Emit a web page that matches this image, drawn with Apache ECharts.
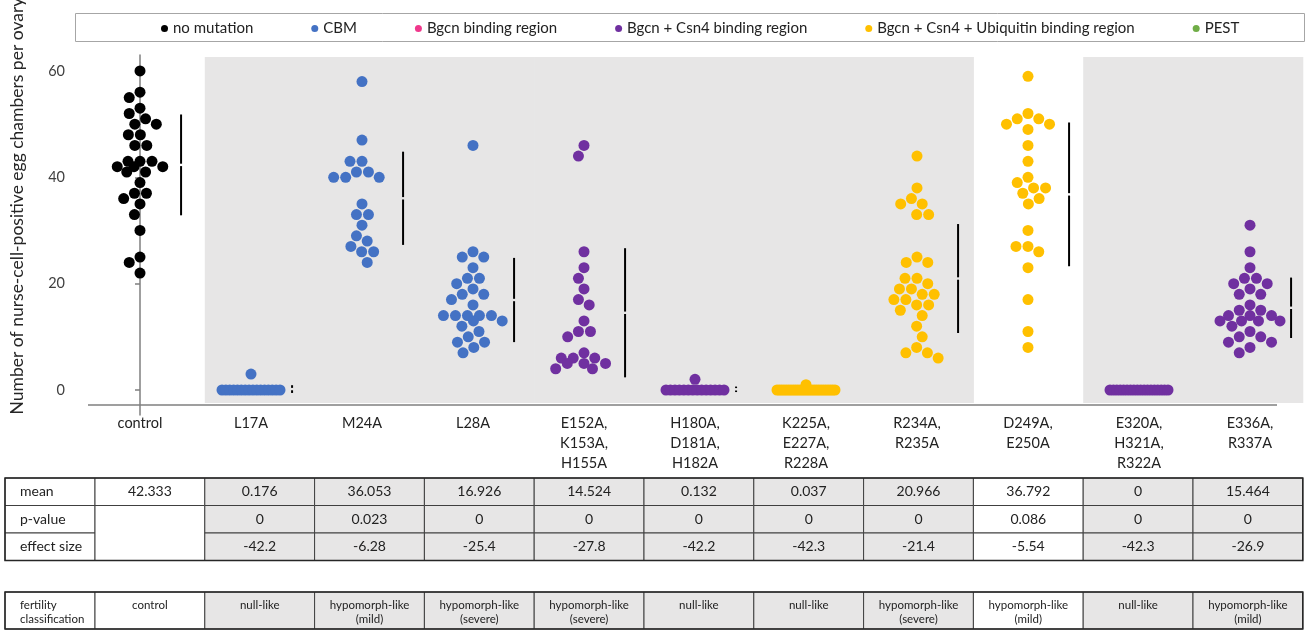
<!DOCTYPE html>
<html>
<head>
<meta charset="utf-8">
<title>Nurse-cell-positive egg chambers per ovary</title>
<script src="https://cdn.jsdelivr.net/npm/echarts@6/dist/echarts.min.js"></script>
<style>
  html, body { margin: 0; padding: 0; background: #fff; }
  #chart { width: 1312px; height: 630px; }
</style>
</head>
<body>
<div id="chart"></div>
<script>
// ---- data -------------------------------------------------------------
const categories = [
  'control', 'L17A', 'M24A', 'L28A',
  'E152A,\nK153A,\nH155A', 'H180A,\nD181A,\nH182A', 'K225A,\nE227A,\nR228A',
  'R234A,\nR235A', 'D249A,\nE250A', 'E320A,\nH321A,\nR322A', 'E336A,\nR337A'
];

const groupNames = [
  'no mutation', 'CBM', 'Bgcn binding region', 'Bgcn + Csn4 binding region',
  'Bgcn + Csn4 + Ubiquitin binding region', 'PEST'
];
const groupColors = ['#000000', '#4472C4', '#F0388C', '#7030A0', '#FFC000', '#70AD47'];
// which mutation region each category belongs to (index into groupNames)
const categoryGroup = [0, 1, 1, 1, 3, 3, 4, 4, 4, 3, 3];

// egg chambers per ovary, one value per ovary
const controlValues = [60, 56, 55, 53, 52, 51, 50, 50, 48, 48, 46, 46, 43, 43, 43, 42, 42, 42, 41, 41, 39, 37, 37, 36, 35, 33, 30, 25, 24, 22];
const l17aValues = [3, 0, 0, 0, 0, 0, 0, 0, 0, 0, 0, 0, 0, 0, 0, 0, 0];
const m24aValues = [58, 47, 43, 43, 41, 41, 40, 40, 40, 35, 33, 33, 31, 29, 28, 27, 26, 26, 24];
const l28aValues = [46, 26, 25, 25, 23, 21, 21, 20, 19, 18, 18, 17, 16, 14, 14, 14, 14, 14, 13, 13, 12, 11, 10, 9, 9, 8, 7];
const e152aValues = [46, 44, 26, 23, 21, 19, 17, 16, 13, 11, 11, 10, 7, 6, 6, 6, 5, 5, 5, 4, 4];
const h180aValues = [2, 0, 0, 0, 0, 0, 0, 0, 0, 0, 0, 0, 0, 0, 0];
const k225aValues = [1, 0, 0, 0, 0, 0, 0, 0, 0, 0, 0, 0, 0, 0, 0, 0, 0, 0, 0, 0, 0, 0, 0, 0, 0, 0, 0];
const r234aValues = [44, 38, 36, 35, 35, 33, 33, 25, 24, 24, 21, 21, 20, 19, 19, 18, 18, 17, 17, 16, 16, 15, 14, 12, 10, 8, 7, 7, 6];
const d249aValues = [59, 52, 51, 51, 50, 50, 49, 46, 43, 40, 39, 38, 38, 37, 36, 35, 30, 27, 27, 26, 23, 17, 11, 8];
const e320aValues = [0, 0, 0, 0, 0, 0, 0, 0, 0, 0, 0, 0, 0, 0, 0, 0, 0, 0];
const e336aValues = [31, 26, 23, 21, 21, 20, 20, 19, 18, 18, 16, 15, 15, 14, 14, 14, 13, 13, 13, 13, 12, 11, 10, 10, 9, 9, 8, 7];

const categoryValues = [
  controlValues, l17aValues, m24aValues, l28aValues, e152aValues, h180aValues,
  k225aValues, r234aValues, d249aValues, e320aValues, e336aValues
];

// summary table
const meanLabels = ['42.333', '0.176', '36.053', '16.926', '14.524', '0.132', '0.037', '20.966', '36.792', '0', '15.464'];
const pValueLabels = ['', '0', '0.023', '0', '0', '0', '0', '0', '0.086', '0', '0'];
const effectSizeLabels = ['', '-42.2', '-6.28', '-25.4', '-27.8', '-42.2', '-42.3', '-21.4', '-5.54', '-42.3', '-26.9'];
const fertilityLabels = [
  'control', 'null-like', 'hypomorph-like\n(mild)', 'hypomorph-like\n(severe)', 'hypomorph-like\n(severe)',
  'null-like', 'null-like', 'hypomorph-like\n(severe)', 'hypomorph-like\n(mild)', 'null-like', 'hypomorph-like\n(mild)'
];
const yTicks = [0, 20, 40, 60];

// ---- layout & style -----------------------------------------------------
const FONT = 'Lato';
const GRID = { left: 73, top: 55, width: 1234, height: 360 };
const X_MIN = -0.6036, X_MAX = 10.5135;
const Y_MIN = -4.7, Y_MAX = 63;
const MEAN_OFFSET = 0.37;      // mean/SD bar sits to the right of each swarm
const DOT = 11;                // dot diameter, px
const SWARM_GAPS = [12, 11, 10, 9, 8];  // packing distances, loosened when a row gets crowded
const SWARM_WIDTH = 30;        // preferred half-width of a swarm
const SWARM_CAP = 29;          // half-width for a pile of identical values
const SHADE = '#E7E6E6';
const LINE = '#404040';

// table columns (shared by the shaded bands above them)
const TABLE_LEFT = 5, LABEL_COL_W = 90, COL_W = 109.8;
const colX = i => TABLE_LEFT + LABEL_COL_W + i * COL_W;

const meanValues = meanLabels.map(Number);
const isSignificant = pValueLabels.map(p => p !== '' && Number(p) < 0.05);

function sampleSD(vals) {
  const n = vals.length;
  if (n < 2) return 0;
  const m = vals.reduce((a, b) => a + b, 0) / n;
  return Math.sqrt(vals.reduce((a, v) => a + (v - m) * (v - m), 0) / (n - 1));
}
const sdValues = categoryValues.map(sampleSD);

// ---- beeswarm packing (px offsets from the category centre) -----------
function nearestFree(placed, y, gap) {
  const blocks = [];
  placed.forEach(p => {
    const dy = Math.abs(p.y - y);
    if (dy < gap) {
      const w = Math.sqrt(gap * gap - dy * dy);
      blocks.push([p.x - w, p.x + w]);
    }
  });
  const cands = [0];
  blocks.forEach(b => cands.push(b[0], b[1]));
  cands.sort((a, b) => Math.abs(a) - Math.abs(b) || a - b);
  return cands.find(c => blocks.every(b => c <= b[0] + 1e-6 || c >= b[1] - 1e-6));
}

function swarmOffsets(vals, pxPerY) {
  const offsets = new Array(vals.length).fill(0);
  const counts = {};
  vals.forEach(v => { counts[v] = (counts[v] || 0) + 1; });
  // large piles of a single value are spread evenly across a fixed width
  const piled = new Set(Object.keys(counts).map(Number)
    .filter(v => counts[v] * SWARM_GAPS[0] > 2 * SWARM_CAP + SWARM_GAPS[0]));
  piled.forEach(v => {
    const ids = vals.map((x, i) => i).filter(i => vals[i] === v);
    ids.forEach((id, k) => { offsets[id] = -SWARM_CAP + 2 * SWARM_CAP * k / (ids.length - 1); });
  });
  const order = vals.map((x, i) => i).filter(i => !piled.has(vals[i]))
    .sort((a, b) => vals[b] - vals[a]);
  const placed = [];
  order.forEach(i => {
    const y = vals[i] * pxPerY;
    let x = 0;
    for (const gap of SWARM_GAPS) {
      x = nearestFree(placed, y, gap);
      if (Math.abs(x) <= SWARM_WIDTH) break;
    }
    offsets[i] = x;
    placed.push({ x, y });
  });
  return offsets;
}

// ---- static graphics: legend frame, axis title, x baseline, bands, table
function buildGraphics() {
  const g = [];
  // shaded columns behind significantly different genotypes
  categories.forEach((c, i) => {
    if (isSignificant[i]) {
      g.push({ type: 'rect', z: -10, shape: { x: colX(i), y: 57, width: COL_W + 0.5, height: 346 },
        style: { fill: SHADE } });
    }
  });
  // legend frame
  g.push({ type: 'rect', shape: { x: 75.5, y: 13.5, width: 1229, height: 28 },
    style: { fill: 'none', stroke: '#A6A6A6', lineWidth: 1 } });
  // y-axis title
  g.push({ type: 'text', x: 17, y: 206, rotation: Math.PI / 2,
    style: { text: 'Number of nurse-cell-positive egg chambers per ovary', font: '17.5px ' + FONT,
      fill: '#262626', textAlign: 'center', textVerticalAlign: 'middle', align: 'center', verticalAlign: 'middle' } });
  // x baseline
  g.push({ type: 'line', shape: { x1: 88, y1: 405, x2: 1277, y2: 405 },
    style: { stroke: '#7f7f7f', lineWidth: 1.5 } });

  const cellText = (text, x, y, opts) => ({
    type: 'text', x, y, z: 5,
    style: Object.assign({ text, font: '14px ' + FONT, fill: '#222',
      textAlign: 'center', textVerticalAlign: 'middle', align: 'center', verticalAlign: 'middle' }, opts || {})
  });
  const cell = (x, y, w, h, fill) => ({
    type: 'rect', z: 4, shape: { x, y, width: w, height: h },
    style: { fill, stroke: LINE, lineWidth: 1 }
  });

  // statistics table
  const T1 = 478, RH = 27.5;
  const rowNames = ['mean', 'p-value', 'effect size'];
  rowNames.forEach((name, r) => {
    g.push(cell(TABLE_LEFT, T1 + r * RH, LABEL_COL_W, RH, '#fff'));
    g.push(cellText(name, TABLE_LEFT + 15, T1 + r * RH + RH / 2, { textAlign: 'left', align: 'left' }));
  });
  categories.forEach((c, i) => {
    const fill = isSignificant[i] ? SHADE : '#fff';
    g.push(cell(colX(i), T1, COL_W, RH, fill));
    g.push(cellText(meanLabels[i], colX(i) + COL_W / 2, T1 + RH / 2));
    if (pValueLabels[i] === '') {
      g.push(cell(colX(i), T1 + RH, COL_W, 2 * RH, fill));
    } else {
      g.push(cell(colX(i), T1 + RH, COL_W, RH, fill));
      g.push(cellText(pValueLabels[i], colX(i) + COL_W / 2, T1 + 1.5 * RH));
      g.push(cell(colX(i), T1 + 2 * RH, COL_W, RH, fill));
      g.push(cellText(effectSizeLabels[i], colX(i) + COL_W / 2, T1 + 2.5 * RH));
    }
  });
  g.push({ type: 'rect', z: 6, shape: { x: TABLE_LEFT, y: T1, width: LABEL_COL_W + 11 * COL_W, height: 3 * RH },
    style: { fill: 'none', stroke: '#262626', lineWidth: 1.5 } });

  // fertility classification table
  const T2 = 592, RH2 = 37;
  const smallFont = '11.5px ' + FONT;
  g.push(cell(TABLE_LEFT, T2, LABEL_COL_W, RH2, '#fff'));
  g.push(cellText('fertility\nclassification', TABLE_LEFT + 15, T2 + 6,
    { textAlign: 'left', align: 'left', textVerticalAlign: 'top', verticalAlign: 'top', font: smallFont, lineHeight: 14 }));
  categories.forEach((c, i) => {
    g.push(cell(colX(i), T2, COL_W, RH2, isSignificant[i] ? SHADE : '#fff'));
    g.push(cellText(fertilityLabels[i], colX(i) + COL_W / 2, T2 + 6,
      { textVerticalAlign: 'top', verticalAlign: 'top', font: smallFont, lineHeight: 14 }));
  });
  g.push({ type: 'rect', z: 6, shape: { x: TABLE_LEFT, y: T2, width: LABEL_COL_W + 11 * COL_W, height: RH2 },
    style: { fill: 'none', stroke: '#262626', lineWidth: 1.5 } });
  return g;
}

// ---- chart ------------------------------------------------------------
const chart = echarts.init(document.getElementById('chart'));

chart.setOption({
  animation: false,
  textStyle: { fontFamily: FONT },
  grid: GRID,
  legend: {
    data: groupNames,
    left: 161, top: 21,
    icon: 'circle', itemWidth: 7, itemHeight: 7, itemGap: 58,
    padding: 0, selectedMode: false,
    textStyle: { fontSize: 15, color: '#222', fontFamily: FONT }
  },
  xAxis: {
    type: 'value', min: X_MIN, max: X_MAX,
    axisLine: { show: false }, axisTick: { show: false }, splitLine: { show: false },
    axisLabel: {
      customValues: categories.map((c, i) => i),
      formatter: v => categories[Math.round(v)],
      fontSize: 14.5, color: '#222', lineHeight: 20, margin: -2, verticalAlign: 'top'
    }
  },
  yAxis: {
    type: 'value', min: Y_MIN, max: Y_MAX,
    axisLine: { show: true, lineStyle: { color: '#7f7f7f', width: 1.5 } },
    axisTick: { show: true, length: 5, customValues: yTicks, lineStyle: { color: '#7f7f7f', width: 1.5 } },
    axisLabel: { customValues: yTicks, fontSize: 14.5, color: '#404040', margin: 8 },
    splitLine: { show: false }
  },
  graphic: buildGraphics(),
  series: groupNames.map((name, g) => ({ type: 'scatter', name, data: [] }))
});

const p0 = chart.convertToPixel({ gridIndex: 0 }, [0, 0]);
const p1 = chart.convertToPixel({ gridIndex: 0 }, [1, 1]);
const pxPerX = p1[0] - p0[0];
const pxPerY = p0[1] - p1[1];

const groupData = groupNames.map(() => []);
categoryValues.forEach((vals, i) => {
  const offs = swarmOffsets(vals, pxPerY);
  vals.forEach((v, k) => groupData[categoryGroup[i]].push([i + offs[k] / pxPerX, v]));
});

const dotSeries = groupNames.map((name, g) => ({
  type: 'scatter', name, data: groupData[g],
  symbol: 'circle', symbolSize: DOT, z: 3,
  itemStyle: { color: groupColors[g], opacity: 1 },
  emphasis: { disabled: true }, silent: true
}));

const meanSeries = {
  type: 'custom', name: 'mean ± SD', silent: true, z: 4,
  data: categories.map((c, i) => [i, meanValues[i], sdValues[i]]),
  renderItem: (params, api) => {
    const i = api.value(0), m = api.value(1), s = api.value(2);
    if (!(s > 0)) return null;
    const top = api.coord([i + MEAN_OFFSET, m + s]);
    const mid = api.coord([i + MEAN_OFFSET, m]);
    const bot = api.coord([i + MEAN_OFFSET, m - s]);
    const gap = 1.2;
    const style = { stroke: '#000', lineWidth: 2 };
    return {
      type: 'group',
      children: [
        { type: 'line', shape: { x1: top[0], y1: top[1], x2: mid[0], y2: Math.max(top[1], mid[1] - gap) }, style },
        { type: 'line', shape: { x1: mid[0], y1: Math.min(bot[1], mid[1] + gap), x2: bot[0], y2: bot[1] }, style }
      ]
    };
  }
};

chart.setOption({ series: dotSeries.concat([meanSeries]) });
</script>
</body>
</html>
